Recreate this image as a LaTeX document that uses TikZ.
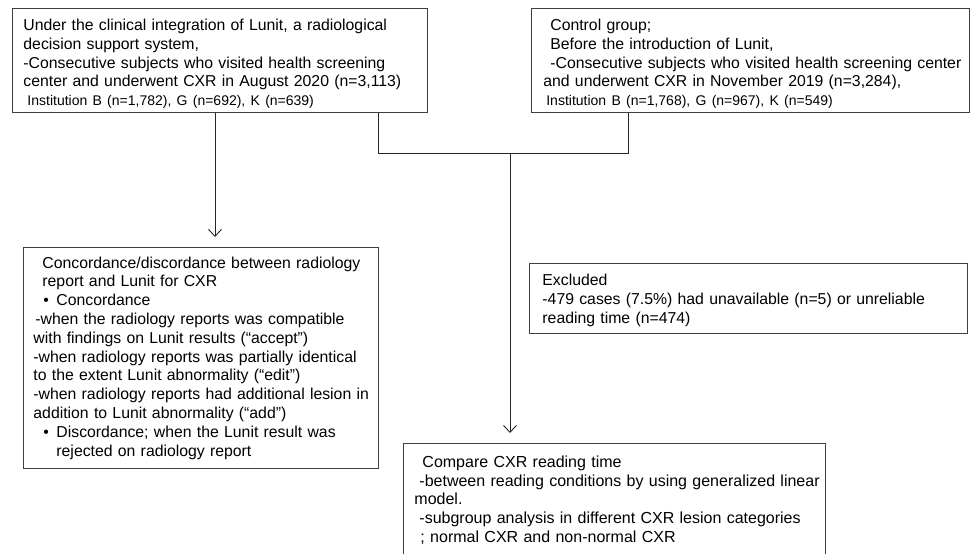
\documentclass[tikz,border=0pt]{standalone}
\usepackage{fontspec}
\setmainfont{Liberation Sans}
\usetikzlibrary{positioning,arrows.meta}

\begin{document}
\begin{tikzpicture}[x=1pt, y=-1pt, node distance={103pt},
		box/.style = {draw=black!75, line width=0.9pt, anchor=north west, inner ysep=0pt, align=left, font=\fontsize{15.8}{18.8}\selectfont},
		arr/.style = {draw=black!85, line width=0.9pt, -{Straight Barb[length=7pt,width=13pt]}, shorten >=10pt},
		link/.style = {draw=black!85, line width=0.9pt}]
	\useasboundingbox (0,0) rectangle (970,554);
	\clip (0,0) rectangle (970,554);
	\fill[white] (0,0) rectangle (970,554);
	\node[box, inner xsep=11pt, text width=393pt, minimum height=104pt] (lunit) at (12,8) {\rule{0pt}{18pt}Under the clinical integration of Lunit, a radiological\\
		decision support system,\\
		-Consecutive subjects who visited health screening\\
		center and underwent CXR in August 2020 (n=3,113)\\
		{\fontsize{14}{18}\selectfont\hspace*{4pt}Institution B (n=1,782), G (n=692), K (n=639)}};
	\node[box, inner xsep=12pt, text width=414pt, minimum height=104pt, anchor=west] (control) [right=103pt of lunit] {\rule{0pt}{18pt}\hspace*{7pt}Control group;\\
		\hspace*{7pt}Before the introduction of Lunit,\\
		\mbox{\hspace*{7pt}-Consecutive subjects who visited health screening center}\\
		and underwent CXR in November 2019 (n=3,284),\\
		{\fontsize{14}{18}\selectfont\hspace*{3pt}Institution B (n=1,768), G (n=967), K (n=549)}};
	\node[box, inner xsep=10pt, text width=335pt, minimum height=221pt] (concord) at (23,247) {\hspace*{9pt}Concordance/discordance between radiology\\
		\hspace*{9pt}report and Lunit for CXR\\
		\hspace*{10pt}\makebox[13pt][l]{\textbullet}Concordance\\
		\hspace*{2pt}-when the radiology reports was compatible\\
		with findings on Lunit results (“accept”)\\
		-when radiology reports was partially identical\\
		to the extent Lunit abnormality (“edit”)\\
		\mbox{-when radiology reports had additional lesion in}\\
		addition to Lunit abnormality (“add”)\\
		\hspace*{10pt}\makebox[13pt][l]{\textbullet}Discordance; when the Lunit result was\\
		\hspace*{23pt}rejected on radiology report};
	\node[box, inner xsep=13pt, text width=412pt, minimum height=70pt] (excl) at (529,263) {\rule{0pt}{15pt}Excluded\\
		-479 cases (7.5\%) had unavailable (n=5) or unreliable\\
		reading time (n=474)};
	\node[box, inner xsep=11pt, inner ysep=12.6pt, text width=400pt, font=\fontsize{16}{18.6}\selectfont] (compare) at (403,443) {\hspace*{8pt}Compare CXR reading time\\
		\mbox{\hspace*{5pt}-between reading conditions by using generalized linear}\\
		model.\\
		\hspace*{5pt}-subgroup analysis in different CXR lesion categories\\
		\hspace*{6pt}; normal CXR and non-normal CXR};
	\coordinate (drop) at ([xshift=107pt]compare.north west);
	\draw[arr] ([xshift=203pt]lunit.south west) -- ([xshift=192pt]concord.north west);
	\draw[link] ([xshift=366pt]lunit.south west) -- ++(0,41) coordinate (mid) -| ([xshift=98pt]control.south west);
	\draw[arr] (drop |- mid) -- (drop);
\end{tikzpicture}
\end{document}
